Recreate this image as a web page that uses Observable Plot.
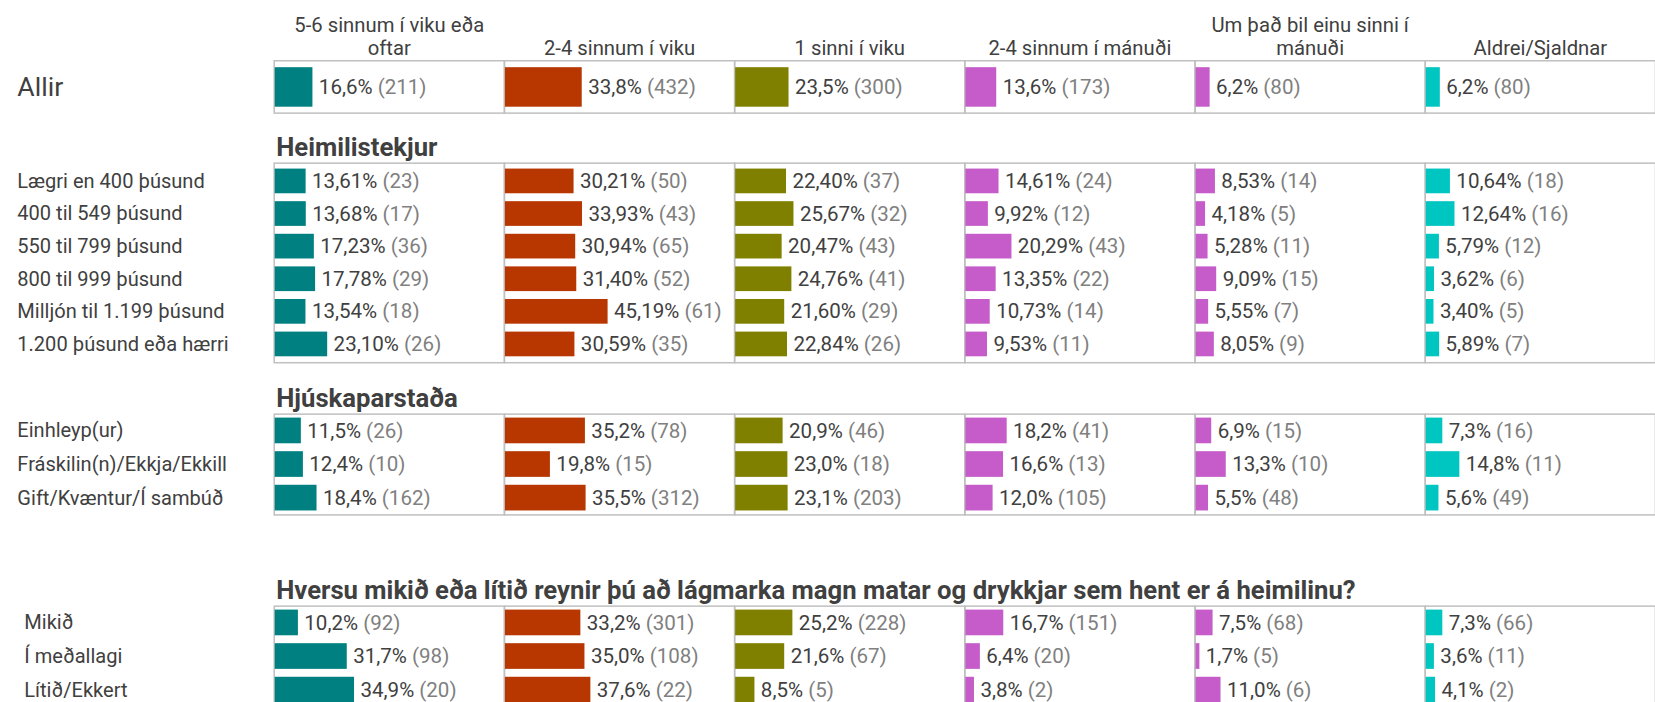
<!DOCTYPE html>
<html><head><meta charset="utf-8">
<script src="https://cdn.jsdelivr.net/npm/d3@7"></script>
<script src="https://cdn.jsdelivr.net/npm/@observablehq/plot@0.6"></script>
<style>
html,body{margin:0;padding:0;background:#fff;overflow:hidden;width:1655px;height:702px;}
#wrap{position:relative;width:1655px;height:702px;overflow:hidden;}
.sec{position:absolute;left:0;}
</style></head><body><div id="wrap"></div>
<script>
// ---- data ----
const columns = ["5-6 sinnum í viku eða oftar", "2-4 sinnum í viku", "1 sinni í viku", "2-4 sinnum í mánuði", "Um það bil einu sinni í mánuði", "Aldrei/Sjaldnar"];
const headerLabels = ["5-6 sinnum í viku eða\noftar", "2-4 sinnum í viku", "1 sinni í viku", "2-4 sinnum í mánuði", "Um það bil einu sinni í\nmánuði", "Aldrei/Sjaldnar"];
const colors = ["#008080", "#B83700", "#808000", "#C55CC9", "#C55CC9", "#00C6C1"];

const allirLabels = ["Allir"];
const allirPct = [[16.6, 33.8, 23.5, 13.6, 6.2, 6.2]];
const allirN = [[211, 432, 300, 173, 80, 80]];

const incomeTitle = "Heimilistekjur";
const incomeLabels = ["Lægri en 400 þúsund", "400 til 549 þúsund", "550 til 799 þúsund", "800 til 999 þúsund", "Milljón til 1.199 þúsund", "1.200 þúsund eða hærri"];
const incomePct = [
  [13.61, 30.21, 22.40, 14.61, 8.53, 10.64],
  [13.68, 33.93, 25.67, 9.92, 4.18, 12.64],
  [17.23, 30.94, 20.47, 20.29, 5.28, 5.79],
  [17.78, 31.40, 24.76, 13.35, 9.09, 3.62],
  [13.54, 45.19, 21.60, 10.73, 5.55, 3.40],
  [23.10, 30.59, 22.84, 9.53, 8.05, 5.89]
];
const incomeN = [
  [23, 50, 37, 24, 14, 18],
  [17, 43, 32, 12, 5, 16],
  [36, 65, 43, 43, 11, 12],
  [29, 52, 41, 22, 15, 6],
  [18, 61, 29, 14, 7, 5],
  [26, 35, 26, 11, 9, 7]
];

const maritalTitle = "Hjúskaparstaða";
const maritalLabels = ["Einhleyp(ur)", "Fráskilin(n)/Ekkja/Ekkill", "Gift/Kvæntur/Í sambúð"];
const maritalPct = [
  [11.5, 35.2, 20.9, 18.2, 6.9, 7.3],
  [12.4, 19.8, 23.0, 16.6, 13.3, 14.8],
  [18.4, 35.5, 23.1, 12.0, 5.5, 5.6]
];
const maritalN = [
  [26, 78, 46, 41, 15, 16],
  [10, 15, 18, 13, 10, 11],
  [162, 312, 203, 105, 48, 49]
];

const wasteTitle = "Hversu mikið eða lítið reynir þú að lágmarka magn matar og drykkjar sem hent er á heimilinu?";
const wasteLabels = ["Mikið", "Í meðallagi", "Lítið/Ekkert"];
const wastePct = [
  [10.2, 33.2, 25.2, 16.7, 7.5, 7.3],
  [31.7, 35.0, 21.6, 6.4, 1.7, 3.6],
  [34.9, 37.6, 8.5, 3.8, 11.0, 4.1]
];
const wasteN = [
  [92, 301, 228, 151, 68, 66],
  [98, 108, 67, 20, 5, 11],
  [20, 22, 5, 2, 6, 2]
];

// ---- helpers ----
const fmt = (v, dec) => v.toFixed(dec).replace(".", ",");
function rows(labels, pct, n) {
  const out = [];
  labels.forEach((r, i) => columns.forEach((c, j) => out.push({row: r, col: c, pct: pct[i][j], n: n[i][j]})));
  return out;
}

function section({labels, pct, n, dec, title, top, marginTop, innerH, header, labelSize, labelX}) {
  const data = rows(labels, pct, n);
  const marks = [
    Plot.frame({stroke: "#bfbfbf", strokeWidth: 1.5}),
    Plot.barX(data, {fx: "col", y: "row", x: "pct", fill: "col"}),
    Plot.text(data, {fx: "col", y: "row", x: "pct", text: d => fmt(d.pct, dec) + "% (" + d.n + ")",
      textAnchor: "start", dx: 6, fill: "#404040", fontSize: 20.8}),
    Plot.axisY({tickSize: 0, tickPadding: 0, textAnchor: "start", dx: labelX - 277, fontSize: labelSize, label: null})
  ];
  if (header) {
    marks.push(Plot.axisFx({anchor: "top", tickSize: 0, tickPadding: 6, label: null, fontSize: 20.5, lineHeight: 1.15,
      tickFormat: d => headerLabels[columns.indexOf(d)]}));
  }
  if (title) {
    marks.push(Plot.text([title], {fx: () => columns[0], text: d => d, frameAnchor: "top-left", lineAnchor: "bottom",
      textAnchor: "start", dx: 2, dy: -7, fontSize: 26, fontWeight: "bold", fill: "#404040"}));
  }
  const svg = Plot.plot({
    width: 1675, height: marginTop + innerH + 2,
    marginLeft: 277, marginRight: 0, marginTop, marginBottom: 2,
    style: {fontFamily: "Roboto, sans-serif", fontSize: "20px", color: "#404040", background: "transparent", overflow: "visible"},
    x: {domain: [0, 100], axis: null, insetLeft: 1, insetRight: 2},
    y: {domain: labels, paddingInner: 0.25, paddingOuter: 0.11, axis: null},
    fx: {domain: columns, padding: 0, axis: null},
    color: {domain: columns, range: colors},
    marks
  });
  // two-tone value labels: percentage dark, count lighter
  d3.select(svg).selectAll("text").each(function() {
    const t = this.textContent;
    const m = t.match(/^([\d,]+%)\s(\(\d+\))$/);
    if (m) {
      this.textContent = "";
      d3.select(this).append("tspan").text(m[1]);
      d3.select(this).append("tspan").attr("fill", "#808080").text(" " + m[2]);
    }
  });
  const div = document.createElement("div");
  div.className = "sec";
  div.style.top = top + "px";
  div.appendChild(svg);
  document.getElementById("wrap").appendChild(div);
}

section({labels: allirLabels, pct: allirPct, n: allirN, dec: 1, title: null, top: 0, marginTop: 61, innerH: 53, header: true, labelSize: 27, labelX: 17});
section({labels: incomeLabels, pct: incomePct, n: incomeN, dec: 2, title: incomeTitle, top: 133, marginTop: 30, innerH: 202, header: false, labelSize: 20.3, labelX: 17});
section({labels: maritalLabels, pct: maritalPct, n: maritalN, dec: 1, title: maritalTitle, top: 384, marginTop: 30, innerH: 102, header: false, labelSize: 20.3, labelX: 17});
section({labels: wasteLabels, pct: wastePct, n: wasteN, dec: 1, title: wasteTitle, top: 576, marginTop: 30, innerH: 102, header: false, labelSize: 20.3, labelX: 24});
</script></body></html>
